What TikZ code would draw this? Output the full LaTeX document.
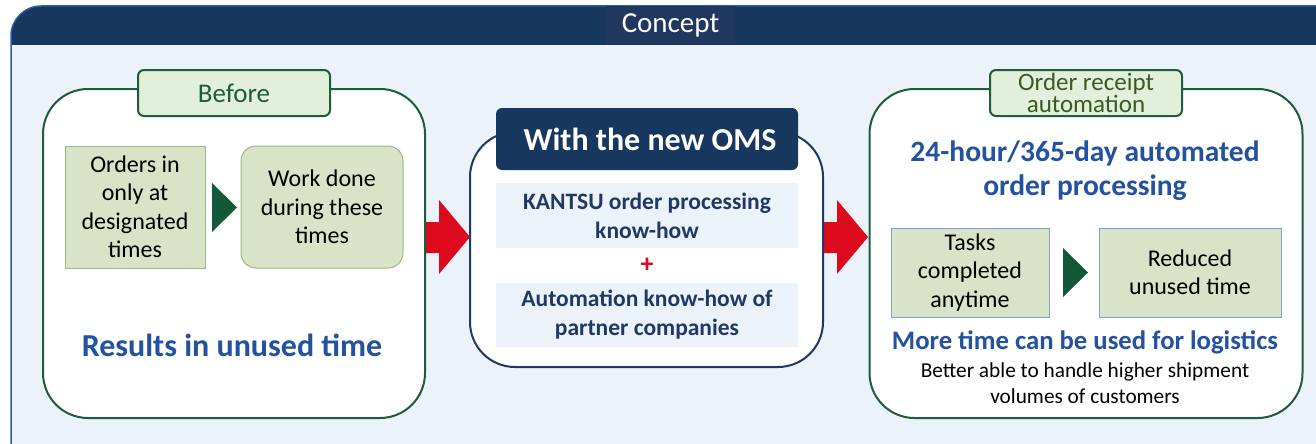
\documentclass[tikz,border=0pt]{standalone}
\usepackage{fontspec}
\setmainfont{Carlito}
\definecolor{navy}{HTML}{17375E}
\definecolor{navylbl}{HTML}{22375F}
\definecolor{frameblue}{HTML}{2A5CAA}
\definecolor{bodybg}{HTML}{EBF2F9}
\definecolor{dgreen}{HTML}{1E5C3C}
\definecolor{tabfill}{HTML}{E2EFDA}
\definecolor{olive}{HTML}{3A5A26}
\definecolor{boxfill}{HTML}{D8E3C7}
\definecolor{boxedge}{HTML}{9DB88D}
\definecolor{boxedgeb}{HTML}{7F9FD0}
\definecolor{trigreen}{HTML}{12583A}
\definecolor{bluetxt}{HTML}{2352A0}
\definecolor{navytxt}{HTML}{1F3864}
\definecolor{redarr}{HTML}{DC0A1C}
\tikzset{
  panelg/.style={draw=dgreen, line width=2pt, fill=white, rounded corners=45pt, inner sep=0pt},
  paneln/.style={draw=navytxt, line width=2pt, fill=white, rounded corners=45pt, inner sep=0pt},
  tabg/.style={draw=dgreen, line width=2pt, fill=tabfill, rounded corners=6pt, inner sep=0pt},
  tabn/.style={fill=navy, rounded corners=6pt, inner sep=0pt, text=white, font=\fontsize{32}{34}\selectfont\bfseries},
  olivebox/.style={draw=boxedge, line width=1pt, fill=boxfill, inner sep=0pt, align=center, font=\fontsize{24}{28.5}\selectfont},
  inbox/.style={fill=bodybg, inner sep=0pt, align=center, text=navytxt, font=\fontsize{23.5}{29}\selectfont\bfseries},
  bluehead/.style={text=bluetxt, align=center, inner sep=0pt}
}
\begin{document}
\begin{tikzpicture}[x=1pt,y=-1pt]
\useasboundingbox (0,0) rectangle (1316,444);
% outer frame
\fill[white] (0,0) rectangle (1316,444);
\fill[bodybg] (11,444) -- (11,36) arc[start angle=180,end angle=270,radius=30] -- (1316,6) -- (1316,444) -- cycle;
\begin{scope}
\clip (11,444) -- (11,36) arc[start angle=180,end angle=270,radius=30] -- (1316,6) -- (1316,444) -- cycle;
\fill[navy] (0,0) rectangle (1316,45);
\end{scope}
\draw[frameblue, line width=1.5pt] (11,444) -- (11,36) arc[start angle=180,end angle=270,radius=30] -- (1316,6);
\node[fill=navylbl, minimum width=129pt, minimum height=39pt, inner sep=0pt, text=white, font=\fontsize{29}{30}\selectfont] (concept) at (670.5,25.5) {Concept};

% red arrows
\fill[redarr] (420,222) -- (439,222) -- (439,200) -- (470,237) -- (439,274) -- (439,253) -- (420,253) -- cycle;
\fill[redarr] (818,222) -- (837,222) -- (837,200) -- (868,237) -- (837,274) -- (837,253) -- (818,253) -- cycle;

% left panel
\node[panelg, minimum width=382pt, minimum height=329pt] (left) at (234,253.5) {};
\node[tabg, minimum width=192pt, minimum height=46pt, text=dgreen, font=\fontsize{27}{28}\selectfont] (before) at (234,93) {Before};
\node[olivebox, minimum width=140pt, minimum height=122pt] (orders) at (135,207) {Orders in\\only at\\designated\\times};
\node[olivebox, rounded corners=15pt, minimum width=162pt, minimum height=122pt] (work) at (322,207) {Work done\\during these\\times};
\fill[trigreen] (212,183) -- (237,207.5) -- (212,232) -- cycle;
\node[bluehead, font=\fontsize{32}{34}\selectfont\bfseries] (results) at (232,345) {Results in unused time};

% middle panel
\node[paneln, minimum width=353pt, minimum height=235pt] (mid) at (646.5,249.5) {};
\node[tabn, minimum width=302pt, minimum height=62pt] (oms) at (647,139) {\hspace*{6pt}With the new OMS};
\node[inbox, minimum width=302pt, minimum height=65pt] (kantsu) at (647,215.5) {KANTSU order processing\\know-how};
\node[text=redarr, font=\fontsize{26}{28}\selectfont\bfseries, inner sep=0pt] (plus) at (647,265) {+};
\node[inbox, minimum width=302pt, minimum height=64pt] (auto) at (647,315) {Automation know-how of\\partner companies};

% right panel
\node[panelg, minimum width=433pt, minimum height=329pt] (right) at (1086,253.5) {};
\node[tabg, minimum width=192pt, minimum height=46pt, text=olive, align=center, font=\fontsize{25}{21.5}\selectfont] (orderrec) at (1086,93) {Order receipt\\automation};
\node[bluehead, font=\fontsize{29.5}{34}\selectfont\bfseries] (h24) at (1085,171) {24-hour/365-day automated\\order processing};
\node[olivebox, draw=boxedgeb, minimum width=158pt, minimum height=89pt] (tasks) at (970,272.5) {Tasks\\completed\\anytime};
\fill[trigreen] (1063,248) -- (1088,272.5) -- (1063,297) -- cycle;
\node[olivebox, draw=boxedgeb, minimum width=182pt, minimum height=89pt] (reduced) at (1190,272.5) {Reduced\\unused time};
\node[bluehead, font=\fontsize{26.7}{28}\selectfont\bfseries] (more) at (1085,342) {More time can be used for logistics};
\node[align=center, inner sep=0pt, font=\fontsize{21.3}{26}\selectfont] (better) at (1085,383) {Better able to handle higher shipment\\volumes of customers};
\end{tikzpicture}
\end{document}
